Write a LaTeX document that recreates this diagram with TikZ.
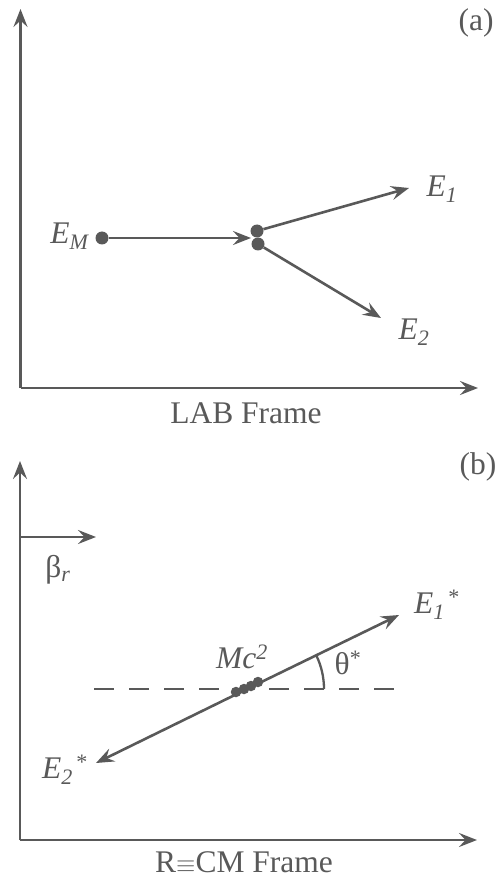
\documentclass[tikz,border=0pt]{standalone}
\usepackage{fontspec}
\setmainfont{Liberation Serif}
\usetikzlibrary{arrows.meta}
\definecolor{ink}{HTML}{595959}
\begin{document}
\begin{tikzpicture}[x=1pt,y=-1pt,
  ln/.style={draw=ink, line width=2.6pt},
  arr/.style={ln, -{Stealth[length=18pt,width=14pt,inset=6.5pt]}},
  dot/.style={circle, fill=ink, minimum size=13pt, inner sep=0pt},
  blob/.style={circle, fill=ink, minimum size=10.5pt, inner sep=0pt},
  lbl/.style={text=ink, font=\fontsize{31.5}{36}\selectfont, inner sep=0pt},
  dashln/.style={ln, dash pattern=on 20pt off 15pt}]
\useasboundingbox (0,0) rectangle (498,882);
% ---------- panel (a)
\coordinate (oa) at (20.5,388);
\coordinate (ya) at (20.5,9);
\coordinate (xa) at (478,388);
\draw[arr] (oa) -- (ya);
\draw[arr] (oa) -- (xa);
\node[dot] (em) at (102,238) {};
\node[dot] (d1) at (257,231) {};
\node[dot] (d2) at (258,244) {};
\coordinate (hit) at (251,238);
\coordinate (t1) at (409,188);
\coordinate (t2) at (381,318);
\draw[arr] (em) -- (hit);
\draw[arr] (d1) -- (t1);
\draw[arr] (d2) -- (t2);
\node[lbl] (la) at (476,23) {(a)};
\node[lbl] (lem) at (70,236) {\textit{E}\textsubscript{\textit{M}}};
\node[lbl] (le1) at (442,189) {\textit{E}\textsubscript{\textit{1}}};
\node[lbl] (le2) at (414,332) {\textit{E}\textsubscript{\textit{2}}};
\node[lbl] (lab) at (246,413) {LAB Frame};
% ---------- panel (b)
\coordinate (ob) at (20,840);
\coordinate (yb) at (20,461);
\coordinate (xb) at (477,840);
\draw[arr] (ob) -- (yb);
\draw[arr] (ob) -- (xb);
\coordinate (bs) at (20,537);
\coordinate (be) at (96,537);
\draw[arr] (bs) -- (be);
\coordinate (dl) at (94,689);
\coordinate (dr) at (404,689);
\draw[dashln] (dl) -- (dr);
\coordinate (c) at (247,689);
\coordinate (p1) at (399,615);
\coordinate (p2) at (96,763);
\draw[arr] (c) -- (p1);
\draw[arr] (c) -- (p2);
\node[blob] (b1) at (236,692) {};
\node[blob] (b2) at (244,689) {};
\node[blob] (b3) at (251,686) {};
\node[blob] (b4) at (258,682) {};
\draw[ln, line width=2.3pt] (c) ++(77,0) arc[start angle=0, end angle=-26, radius=77];
\node[lbl] (lb) at (478,467) {(b)};
\node[lbl] (lbeta) at (58,570) {β\textsubscript{\textit{r}}};
\node[lbl] (le1s) at (437,605) {\textit{E}\textsubscript{\textit{1}}\textsuperscript{\,*}};
\node[lbl] (le2s) at (65,770) {\textit{E}\textsubscript{\textit{2}}\textsuperscript{\,*}};
\node[lbl] (lmc) at (242,657) {\textit{Mc}\textsuperscript{\textit{2}}};
\node[lbl] (lth) at (348,663) {θ\textsuperscript{*}};
\node[lbl] (lcm) at (244,862) {R$\equiv$CM Frame};
\end{tikzpicture}
\end{document}
